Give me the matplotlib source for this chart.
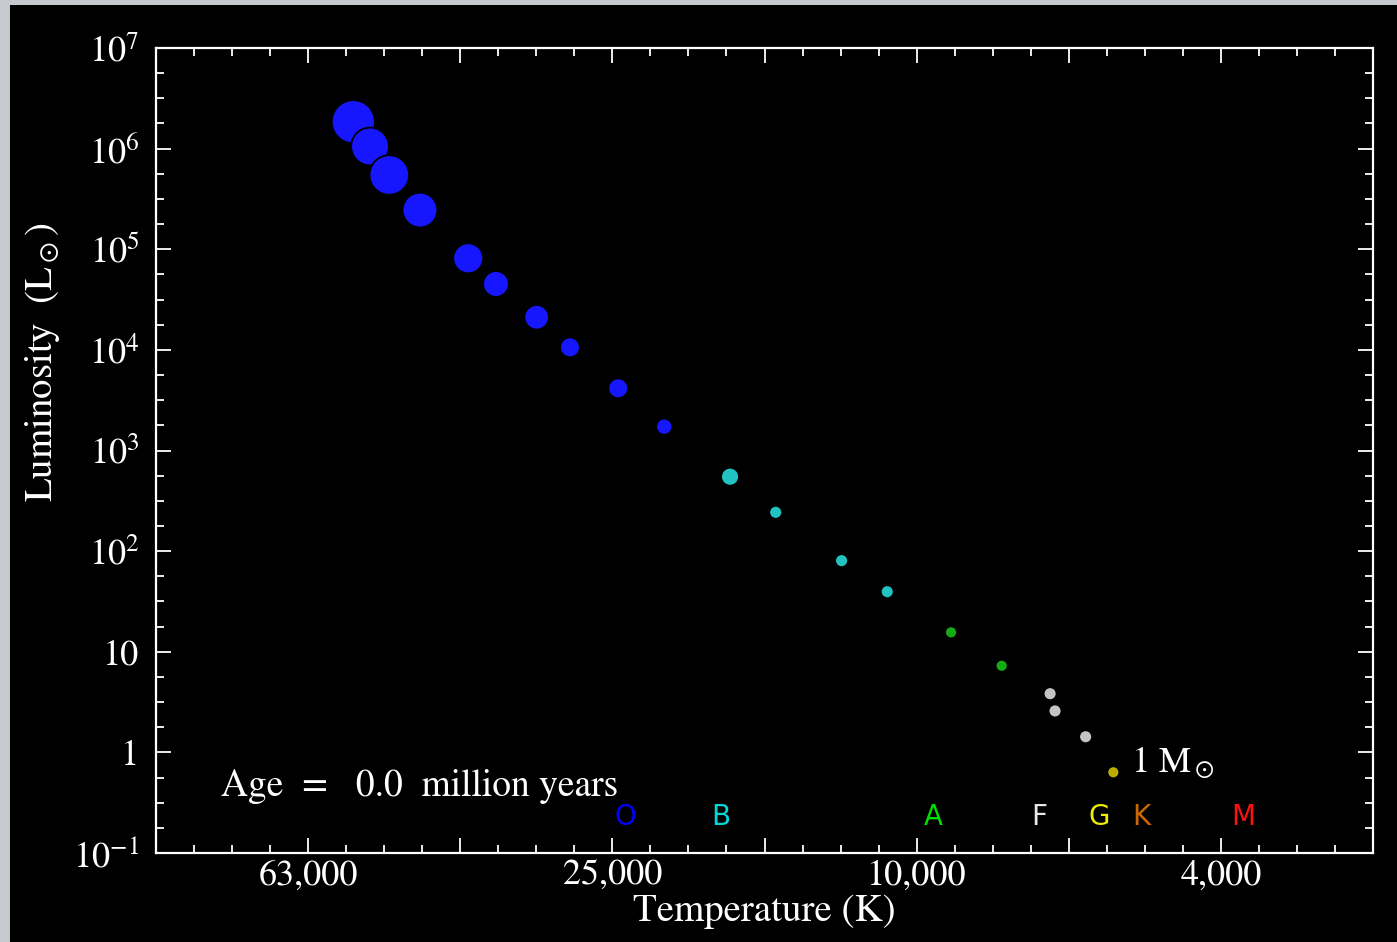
import numpy as np
import matplotlib
matplotlib.use("Agg")
import matplotlib.pyplot as plt
from matplotlib.ticker import FixedLocator, FixedFormatter, NullFormatter
from matplotlib.patches import Rectangle

# zero-age main sequence
temperature = [55030, 52310, 49350, 44970, 38860, 35730, 31590, 28560, 24680, 21470,
               17590, 15320, 12550, 10930, 9010, 7730, 6676, 6577, 5995, 5513]
luminosity = [1.85e6, 1.05e6, 5.47e5, 2.45e5, 8.13e4, 4.52e4, 2.11e4, 1.06e4, 4150, 1726,
              549, 243, 80.4, 39.5, 15.6, 7.26, 3.83, 2.58, 1.43, 0.634]
# dot radius relative to the 1 solar mass star
rel_radius = [3.6, 3.15, 3.3, 2.9, 2.5, 2.15, 2.05, 1.65, 1.65, 1.35,
              1.5, 1.08, 1.08, 1.08, 1.0, 1.0, 1.08, 1.08, 1.08, 1.0]
star_class = ["O"] * 10 + ["B"] * 4 + ["A"] * 2 + ["F"] * 3 + ["G"]

class_letters = ["O", "B", "A", "F", "G", "K", "M"]
class_temps = [24150, 18070, 9500, 6890, 5750, 5070, 3720]

age_myr = 0.0

x_major = [10**4.8, 10**4.6, 10**4.4, 10**4.2, 10**4.0, 10**3.8, 10**3.6]
x_labels = ["63,000", "", "25,000", "", "10,000", "", "4,000"]
y_major = [10.0**k for k in range(-1, 8)]
y_labels = ["$10^{-1}$", "1", "10", "$10^{2}$", "$10^{3}$", "$10^{4}$",
            "$10^{5}$", "$10^{6}$", "$10^{7}$"]

dot_colors = {"O": "#1616ff", "B": "#22c2c2", "A": "#14ac14", "F": "#c4c4c4", "G": "#bdac00"}
letter_colors = {"O": "#0000ff", "B": "#00d8d8", "A": "#00dd00", "F": "#e8e8e8",
                 "G": "#eeee00", "K": "#cc6600", "M": "#ff1010"}

plt.rcParams["font.family"] = "STIXGeneral"
plt.rcParams["mathtext.fontset"] = "stix"

fig = plt.figure(figsize=(13.97, 9.42), dpi=100, facecolor="#c6cacf")
fig.patches.append(Rectangle((10 / 1397, 0), 1, 937 / 942, transform=fig.transFigure,
                             facecolor="black", edgecolor="none", zorder=-5))
ax = fig.add_axes([156 / 1397, 89 / 942, 1217 / 1397, 805 / 942])
ax.set_facecolor("black")

ax.set_xscale("log")
ax.set_yscale("log")
ax.set_xlim(10**5.0, 10**3.4)
ax.set_ylim(0.1, 1e7)

sizes = [(2 * 6 * r * 0.72) ** 2 for r in rel_radius]
cols = [dot_colors[c] for c in star_class]
ax.scatter(temperature, luminosity, s=sizes, c=cols, edgecolors="black", linewidths=1.3, zorder=3)

# ticks
ax.xaxis.set_major_locator(FixedLocator(x_major))
ax.xaxis.set_major_formatter(FixedFormatter(x_labels))
x_minor = [10**v for v in np.arange(3.4, 5.0001, 0.05)]
ax.xaxis.set_minor_locator(FixedLocator(x_minor))
ax.xaxis.set_minor_formatter(NullFormatter())
ax.yaxis.set_major_locator(FixedLocator(y_major))
ax.yaxis.set_major_formatter(FixedFormatter(y_labels))
y_minor = [10**v for v in np.arange(-1, 7.001, 0.25)]
ax.yaxis.set_minor_locator(FixedLocator(y_minor))
ax.yaxis.set_minor_formatter(NullFormatter())

ax.tick_params(which="both", direction="in", colors="white", top=True, right=True,
               width=1.3, labelsize=26)
ax.tick_params(which="major", length=11)
ax.tick_params(which="minor", length=6)
ax.tick_params(axis="x", pad=5)
ax.tick_params(axis="y", pad=12)
for sp in ax.spines.values():
    sp.set_color("white")
    sp.set_linewidth(1.6)

ax.set_xlabel("Temperature (K)", color="white", fontsize=28, labelpad=1)
ax.set_ylabel(r"Luminosity  (L$_\odot$)", color="white", fontsize=28)
ax.yaxis.set_label_coords(-0.077, 0.61)

ax.text(0.053, 0.083, "Age  =   %.1f  million years" % age_myr, transform=ax.transAxes,
        color="white", fontsize=27, va="center", ha="left")

for letter, t in zip(class_letters, class_temps):
    ax.text(t, 0.045, letter, transform=ax.get_xaxis_transform(), color=letter_colors[letter],
            fontsize=20, family="DejaVu Sans", ha="center", va="center")

ax.annotate(r"1 M$_\odot$", xy=(temperature[-1], luminosity[-1]), xytext=(13, 0),
            textcoords="offset points", color="white", fontsize=26, va="baseline", ha="left")

fig.savefig("out.png", dpi=100, facecolor=fig.get_facecolor())
